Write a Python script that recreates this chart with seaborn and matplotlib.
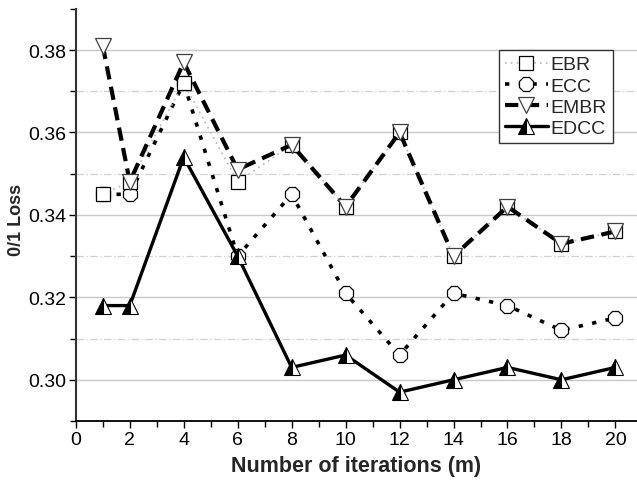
import matplotlib
matplotlib.use("Agg")
import matplotlib.pyplot as plt
import seaborn as sns
import numpy as np
from matplotlib.ticker import MultipleLocator

iterations = [1, 2, 4, 6, 8, 10, 12, 14, 16, 18, 20]
ebr  = [0.345, 0.348, 0.372, 0.348, 0.357, 0.342, 0.360, 0.330, 0.342, 0.333, 0.336]
ecc  = [0.345, 0.345, 0.372, 0.330, 0.345, 0.321, 0.306, 0.321, 0.318, 0.312, 0.315]
embr = [0.381, 0.348, 0.377, 0.351, 0.357, 0.342, 0.360, 0.330, 0.342, 0.333, 0.336]
edcc = [0.318, 0.318, 0.354, 0.330, 0.303, 0.306, 0.297, 0.300, 0.303, 0.300, 0.303]
series_names = ["EBR", "ECC", "EMBR", "EDCC"]

sns.set_theme(style="white")
plt.rcParams['font.family'] = ['Liberation Sans', 'DejaVu Sans']

fig = plt.figure(figsize=(6.37, 4.89), dpi=100)
ax = fig.add_axes([0.119, 0.137, 0.881, 0.843])

ax.set_xlim(0, 20.8)
ax.set_ylim(0.29, 0.39)

# grid
for v in [0.30, 0.32, 0.34, 0.36, 0.38]:
    ax.axhline(v, color="#c8c8c8", lw=1.0, zorder=0)
for v in [0.31, 0.33, 0.35, 0.37]:
    ax.axhline(v, color="#d0d0d0", lw=0.9, ls=(0, (6, 2, 1, 2)), zorder=0)

sns.lineplot(x=iterations, y=ecc, ax=ax, color="black", lw=2.6,
             linestyle=(0, (1.2, 2.6)), marker="8", markersize=11.5,
             markerfacecolor="white", markeredgecolor="black", markeredgewidth=0.9,
             label=series_names[1], zorder=3)
sns.lineplot(x=iterations, y=ebr, ax=ax, color="#b8b8b8", lw=1.2,
             linestyle=(0, (1, 2.5)), marker="s", markersize=9.5,
             markerfacecolor="white", markeredgecolor="black", markeredgewidth=0.9,
             label=series_names[0], zorder=4)
sns.lineplot(x=iterations, y=embr, ax=ax, color="black", lw=3.0,
             linestyle=(0, (3.2, 1.8)), marker="v", markersize=12,
             markerfacecolor="white", markeredgecolor="#404040", markeredgewidth=0.9,
             label=series_names[2], zorder=5)
sns.lineplot(x=iterations, y=edcc, ax=ax, color="black", lw=2.4,
             linestyle="-", marker="^", markersize=12, fillstyle="left",
             markerfacecolor="black", markerfacecoloralt="white",
             markeredgecolor="black", markeredgewidth=0.8,
             label=series_names[3], zorder=6)

# spines
for s in ["top", "right"]:
    ax.spines[s].set_visible(False)
ax.spines["left"].set_color("#333333")
ax.spines["left"].set_linewidth(1.5)
ax.spines["bottom"].set_color("black")
ax.spines["bottom"].set_linewidth(1.3)

ax.xaxis.set_major_locator(MultipleLocator(2))
ax.xaxis.set_minor_locator(MultipleLocator(1))
ax.set_yticks([0.30, 0.32, 0.34, 0.36, 0.38])
ax.yaxis.set_minor_locator(MultipleLocator(0.01))
ax.set_yticklabels(["0.30", "0.32", "0.34", "0.36", "0.38"])
ax.tick_params(axis="both", which="major", direction="out", length=5, width=1.0,
               labelsize=14, colors="black", bottom=True, left=True, pad=2)
ax.tick_params(axis="both", which="minor", direction="out", length=4, width=1.0,
               bottom=True, left=True, colors="black")

ax.set_xlabel("Number of iterations (m)", fontsize=15.5, fontweight="bold", labelpad=5)
ax.set_ylabel("0/1 Loss", fontsize=13, fontweight="bold")
ax.yaxis.set_label_coords(-0.09, 0.49)

# legend order EBR, ECC, EMBR, EDCC
handles, labels = ax.get_legend_handles_labels()
order = [labels.index(n) for n in series_names]
leg = ax.legend([handles[i] for i in order], [labels[i] for i in order],
                loc="upper left", bbox_to_anchor=(0.754, 0.9), frameon=True,
                fancybox=False, edgecolor="#333333", framealpha=1,
                prop={"family": ["Liberation Sans Narrow", "Liberation Sans"], "size": 14},
                handlelength=2.2, handletextpad=0.15, labelspacing=0.18,
                borderpad=0.3, borderaxespad=0)
leg.get_frame().set_linewidth(1.0)

fig.savefig("out.png", dpi=100)
